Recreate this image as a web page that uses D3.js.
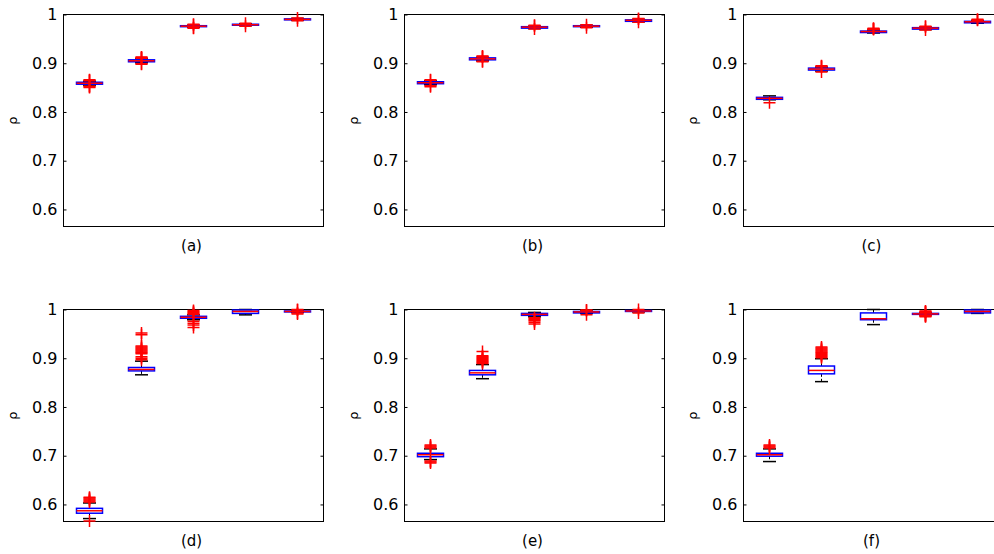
<!DOCTYPE html>
<html>
<head>
<meta charset="utf-8">
<script src="https://cdn.jsdelivr.net/npm/d3@7"></script>
<style>
body { margin: 0; background: #fff; }
svg { display: block; }
text { font-family: "DejaVu Sans", sans-serif; fill: #000; }
</style>
</head>
<body>
<div id="chart"></div>
<script>
// panels and axis
var panelLabels = ["(a)", "(b)", "(c)", "(d)", "(e)", "(f)"];
var groups = [1, 2, 3, 4, 5];
var yTicks = [0.6, 0.7, 0.8, 0.9, 1];
var yTickLabels = ["0.6", "0.7", "0.8", "0.9", "1"];

// box statistics, one row per panel, one value per group
var whiskerLow = [
  [0.855, 0.901, 0.974, 0.977, 0.988],
  [0.856, 0.905, 0.971, 0.974, 0.985],
  [0.825, 0.884, 0.962, 0.969, 0.982],
  [0.571, 0.866, 0.979, 0.989, 0.994],
  [0.692, 0.858, 0.985, 0.992, 0.995],
  [0.688, 0.852, 0.969, 0.989, 0.992]
];
var boxLow = [
  [0.857, 0.903, 0.975, 0.978, 0.989],
  [0.858, 0.907, 0.972, 0.975, 0.986],
  [0.826, 0.886, 0.963, 0.970, 0.983],
  [0.582, 0.874, 0.982, 0.992, 0.995],
  [0.698, 0.866, 0.988, 0.993, 0.996],
  [0.699, 0.868, 0.979, 0.990, 0.993]
];
var medians = [
  [0.859, 0.905, 0.976, 0.979, 0.990],
  [0.860, 0.909, 0.974, 0.976, 0.988],
  [0.828, 0.888, 0.965, 0.972, 0.985],
  [0.587, 0.877, 0.984, 0.996, 0.996],
  [0.702, 0.870, 0.990, 0.995, 0.997],
  [0.702, 0.875, 0.981, 0.991, 0.996]
];
var boxHigh = [
  [0.861, 0.907, 0.977, 0.980, 0.991],
  [0.862, 0.911, 0.975, 0.977, 0.989],
  [0.830, 0.890, 0.966, 0.973, 0.986],
  [0.592, 0.881, 0.986, 0.999, 0.997],
  [0.705, 0.875, 0.992, 0.996, 0.998],
  [0.705, 0.884, 0.993, 0.992, 0.999]
];
var whiskerHigh = [
  [0.863, 0.909, 0.978, 0.981, 0.992],
  [0.864, 0.912, 0.976, 0.978, 0.990],
  [0.833, 0.892, 0.968, 0.974, 0.987],
  [0.603, 0.894, 0.989, 1.000, 0.998],
  [0.714, 0.887, 0.994, 0.997, 0.999],
  [0.714, 0.899, 1.000, 0.993, 1.000]
];
var outliers = [
  [[0.850, 0.852, 0.853, 0.864, 0.865, 0.866], [0.898, 0.899, 0.910, 0.911, 0.912, 0.913], [0.972, 0.973, 0.979, 0.980], [0.976, 0.982], [0.987, 0.993]],
  [[0.852, 0.854, 0.865, 0.866], [0.903, 0.904, 0.913, 0.914, 0.915], [0.970, 0.977, 0.978], [0.973, 0.979], [0.984, 0.991, 0.992]],
  [[0.819], [0.882, 0.893, 0.894, 0.895], [0.969, 0.970, 0.971, 0.972], [0.968, 0.975, 0.976], [0.988, 0.989, 0.990]],
  [[0.566, 0.605, 0.607, 0.609, 0.611, 0.613, 0.615],
   [0.897, 0.900, 0.903, 0.909, 0.911, 0.913, 0.915, 0.917, 0.919, 0.921, 0.923, 0.925, 0.948, 0.952],
   [0.963, 0.968, 0.972, 0.976, 0.990, 0.992, 0.994, 0.996, 0.998], [], [0.991, 0.993, 0.999, 1.000]],
  [[0.685, 0.687, 0.689, 0.716, 0.718, 0.720, 0.722],
   [0.889, 0.891, 0.893, 0.895, 0.897, 0.899, 0.901, 0.903, 0.905, 0.914],
   [0.970, 0.974, 0.977, 0.979, 0.981, 0.983], [0.989, 0.998, 0.999], [0.993, 1.000]],
  [[0.716, 0.718, 0.720, 0.722],
   [0.901, 0.903, 0.905, 0.907, 0.909, 0.911, 0.913, 0.915, 0.917, 0.919, 0.921, 0.923],
   [], [0.985, 0.986, 0.987, 0.988, 0.994, 0.995, 0.996, 0.997], []]
];

var width = 994, height = 554;
var panelLeft = [63, 404, 743], panelTop = [14, 309];
var pw = 260, ph = 212;

var svg = d3.select("#chart")
  .append("svg")
    .attr("width", width)
    .attr("height", height);

var x = d3.scaleLinear().domain([0.5, 5.5]).range([0, pw]);
var y = d3.scaleLinear().domain([0.565, 1]).range([ph, 0]);

var boxHalf = x(1.25) - x(1);   // box width 0.5
var capHalf = x(1.125) - x(1);  // adjacent value lines half the box
var plusHalf = 6;

panelLabels.forEach(function(label, p) {
  var g = svg.append("g")
    .attr("transform", "translate(" + (panelLeft[p % 3] + 0.5) + "," + (panelTop[Math.floor(p / 3)] + 0.5) + ")");

  // frame
  g.append("rect")
    .attr("width", pw)
    .attr("height", ph)
    .attr("fill", "#fff")
    .attr("stroke", "#000")
    .attr("stroke-width", 1);

  // Y axis on the left, ticks pointing in
  var yl = g.append("g")
    .call(d3.axisLeft(y).tickValues(yTicks)
      .tickFormat(function(d, i) { return yTickLabels[i]; })
      .tickSize(-3).tickPadding(6));
  yl.select(".domain").remove();
  yl.selectAll("line").attr("stroke", "#000");
  yl.selectAll("text").style("font-size", "16px");

  // right side ticks
  var yr = g.append("g")
    .attr("transform", "translate(" + pw + ",0)")
    .call(d3.axisRight(y).tickValues(yTicks).tickFormat("").tickSize(-3));
  yr.select(".domain").remove();
  yr.selectAll("line").attr("stroke", "#000");

  // y label
  g.append("text")
    .attr("transform", "translate(-47," + (ph / 2) + ") rotate(-90)")
    .attr("text-anchor", "middle")
    .style("font-size", "13px")
    .text("ρ");

  // panel label
  g.append("text")
    .attr("x", pw / 2 - 2)
    .attr("y", ph + 24)
    .attr("text-anchor", "middle")
    .style("font-size", "15px")
    .text(label);

  var data = groups.map(function(gr, i) {
    return {
      g: gr,
      lo: whiskerLow[p][i], q1: boxLow[p][i], med: medians[p][i],
      q3: boxHigh[p][i], hi: whiskerHigh[p][i], out: outliers[p][i]
    };
  });

  var boxes = g.selectAll(".bx")
    .data(data)
    .enter()
    .append("g")
      .attr("class", "bx");

  // whiskers
  boxes.append("line")
    .attr("x1", function(d) { return x(d.g); })
    .attr("x2", function(d) { return x(d.g); })
    .attr("y1", function(d) { return y(d.q3); })
    .attr("y2", function(d) { return y(d.hi); })
    .attr("stroke", "#000").attr("stroke-dasharray", "3,2");
  boxes.append("line")
    .attr("x1", function(d) { return x(d.g); })
    .attr("x2", function(d) { return x(d.g); })
    .attr("y1", function(d) { return y(d.q1); })
    .attr("y2", function(d) { return y(d.lo); })
    .attr("stroke", "#000").attr("stroke-dasharray", "3,2");

  // adjacent values
  ["lo", "hi"].forEach(function(k) {
    boxes.append("line")
      .attr("x1", function(d) { return x(d.g) - capHalf; })
      .attr("x2", function(d) { return x(d.g) + capHalf; })
      .attr("y1", function(d) { return y(d[k]); })
      .attr("y2", function(d) { return y(d[k]); })
      .attr("stroke", "#000").attr("stroke-width", 1.5);
  });

  // box
  boxes.append("rect")
    .attr("x", function(d) { return x(d.g) - boxHalf; })
    .attr("y", function(d) { return y(d.q3); })
    .attr("width", boxHalf * 2)
    .attr("height", function(d) { return y(d.q1) - y(d.q3); })
    .attr("fill", "none")
    .attr("stroke", "#0000ff")
    .attr("stroke-width", 1.5);

  // median
  boxes.append("line")
    .attr("x1", function(d) { return x(d.g) - boxHalf; })
    .attr("x2", function(d) { return x(d.g) + boxHalf; })
    .attr("y1", function(d) { return y(d.med); })
    .attr("y2", function(d) { return y(d.med); })
    .attr("stroke", "#ff0000").attr("stroke-width", 1.5);

  // outliers as red plus marks
  boxes.selectAll(".out")
    .data(function(d) { return d.out.map(function(v) { return {g: d.g, v: v}; }); })
    .enter()
    .append("path")
      .attr("class", "out")
      .attr("d", function(o) {
        var cx = x(o.g), cy = y(o.v);
        return "M" + (cx - plusHalf) + "," + cy + "H" + (cx + plusHalf) +
               "M" + cx + "," + (cy - plusHalf) + "V" + (cy + plusHalf);
      })
      .attr("fill", "none")
      .attr("stroke", "#ff0000")
      .attr("stroke-width", 1.5);
});
</script>
</body>
</html>
